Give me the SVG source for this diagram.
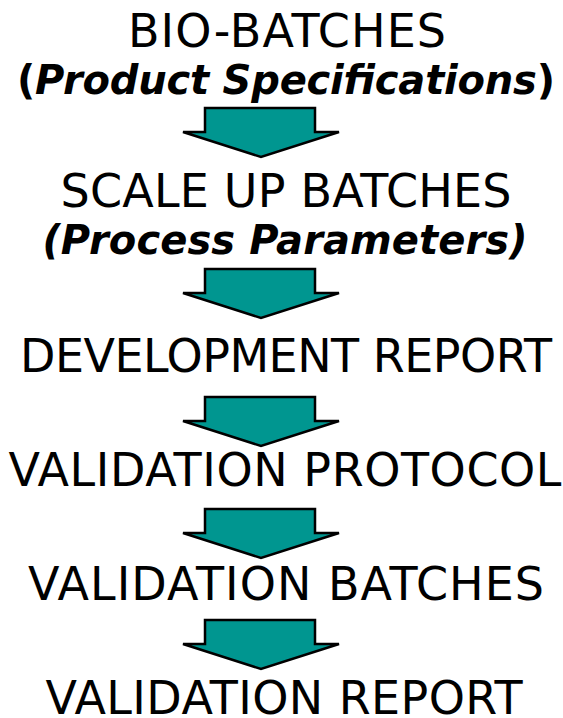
<svg xmlns="http://www.w3.org/2000/svg" width="563" height="718" viewBox="0 0 563 718">
  <style>
    .step { font-family: "DejaVu Sans", Verdana, sans-serif; font-size: 46px; fill: #000; text-anchor: middle; }
    .note { font-family: "DejaVu Sans", Verdana, sans-serif; font-size: 40px; font-weight: bold; fill: #000; text-anchor: middle; }
    .arrow { fill: #009690; stroke: #000; stroke-width: 2.5; stroke-linejoin: miter; }
  </style>
  <defs>
    <!-- block arrow pointing down; origin at top of shaft -->
    <polygon id="downArrow" class="arrow" points="205,0 315,0 315,24 339,24 261,49 183,24 205,24"/>
  </defs>
  <rect width="563" height="718" fill="#fff"/>

  <g id="bio-batches">
    <text class="step" x="287" y="47" textLength="318" lengthAdjust="spacing">BIO-BATCHES</text>
    <text class="note" x="286" y="94" textLength="538" lengthAdjust="spacing">(<tspan font-style="italic">Product Specifications</tspan>)</text>
  </g>
  <g id="scale-up-batches">
    <text class="step" x="286" y="207" textLength="451" lengthAdjust="spacing">SCALE UP BATCHES</text>
    <text class="note" x="285" y="254" font-style="italic" textLength="485" lengthAdjust="spacing">(Process Parameters)</text>
  </g>
  <g id="development-report">
    <text class="step" x="286" y="372" textLength="532" lengthAdjust="spacing">DEVELOPMENT REPORT</text>
  </g>
  <g id="validation-protocol">
    <text class="step" x="285" y="486" textLength="553" lengthAdjust="spacing">VALIDATION PROTOCOL</text>
  </g>
  <g id="validation-batches">
    <text class="step" x="286" y="600" textLength="516" lengthAdjust="spacing">VALIDATION BATCHES</text>
  </g>
  <g id="validation-report">
    <text class="step" x="284" y="714" textLength="477" lengthAdjust="spacing">VALIDATION REPORT</text>
  </g>

  <g id="connectors">
    <use href="#downArrow" transform="translate(0,108)"/>
    <use href="#downArrow" transform="translate(0,269)"/>
    <use href="#downArrow" transform="translate(0,397)"/>
    <use href="#downArrow" transform="translate(0,509)"/>
    <use href="#downArrow" transform="translate(0,620)"/>
  </g>
</svg>
